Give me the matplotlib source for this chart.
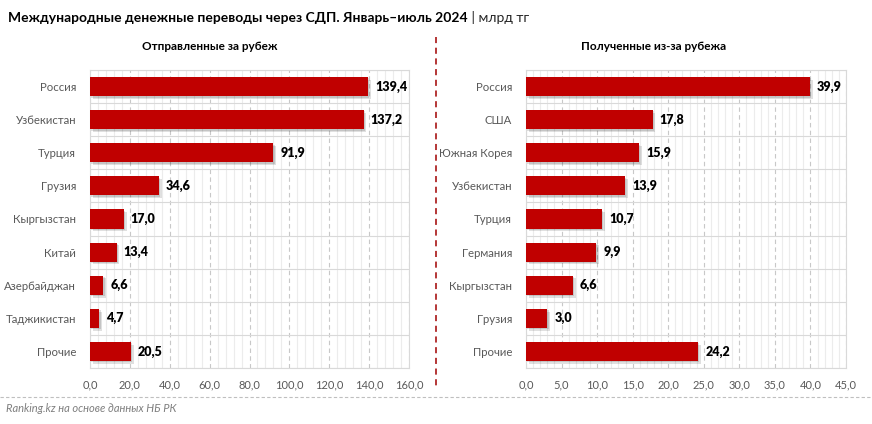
import matplotlib
matplotlib.use("Agg")
import matplotlib.pyplot as plt
import matplotlib.patheffects as pe
from matplotlib.ticker import MultipleLocator, FuncFormatter
from matplotlib.lines import Line2D

plt.rcParams['font.family'] = ['Lato', 'DejaVu Sans']

sent_countries = ["Россия", "Узбекистан", "Турция", "Грузия", "Кыргызстан", "Китай",
                  "Азербайджан", "Таджикистан", "Прочие"]
sent_values = [139.4, 137.2, 91.9, 34.6, 17.0, 13.4, 6.6, 4.7, 20.5]

recv_countries = ["Россия", "США", "Южная Корея", "Узбекистан", "Турция", "Германия",
                  "Кыргызстан", "Грузия", "Прочие"]
recv_values = [39.9, 17.8, 15.9, 13.9, 10.7, 9.9, 6.6, 3.0, 24.2]

title_main = "Международные денежные переводы через СДП. Январь–июль 2024"
title_unit = " | млрд тг"
sub_left = "Отправленные за рубеж"
sub_right = "Полученные из-за рубежа"
source = "Ranking.kz на основе данных НБ РК"

RED = "#C00000"
GRID = "#d9d9d9"
TXT = "#595959"

fig = plt.figure(figsize=(8.72, 4.24), dpi=100)
W, H = 872, 424

def make_ax(left_px, right_px, cats, vals, xmax, major, minor, offset):
    ax = fig.add_axes([left_px / W, 1 - 368 / H, (right_px - left_px) / W, (368 - 70) / H])
    y = list(range(len(cats)))
    bars = ax.barh(y, vals, height=0.58, color=RED, zorder=3)
    for b in bars:
        b.set_path_effects([pe.SimplePatchShadow(offset=(2, -2), shadow_rgbFace="#000000", alpha=0.12),
                            pe.SimplePatchShadow(offset=(1, -1), shadow_rgbFace="#000000", alpha=0.12),
                            pe.Normal()])
    ax.set_ylim(len(cats) - 0.5, -0.5)
    ax.set_xlim(0, xmax)
    ax.set_yticks(y)
    ax.set_yticklabels(cats, fontsize=8.2, color=TXT)
    ax.set_yticks([i - 0.5 for i in range(len(cats) + 1)], minor=True)
    ax.xaxis.set_major_locator(MultipleLocator(major))
    ax.xaxis.set_minor_locator(MultipleLocator(minor))
    ax.xaxis.set_major_formatter(FuncFormatter(lambda v, p: f"{v:.1f}".replace(".", ",")))
    ax.tick_params(axis='x', which='both', length=0, labelsize=8, labelcolor=TXT, pad=8)
    ax.tick_params(axis='y', which='both', length=0, pad=10)
    ax.grid(axis='x', which='minor', color="#ececec", lw=0.8, zorder=0)
    ax.grid(axis='x', which='major', color="#c8c8c8", lw=0.8, ls=(0, (4, 3)), zorder=1)
    ax.grid(axis='y', which='minor', color=GRID, lw=0.8, zorder=1)
    for s in ax.spines.values():
        s.set_color(GRID)
        s.set_linewidth(0.8)
    for yi, v in zip(y, vals):
        ax.text(v + offset, yi, f"{v:.1f}".replace(".", ","), va='center', ha='left',
                fontsize=9, fontweight='heavy', color="#000000")
    return ax

make_ax(90, 409, sent_countries, sent_values, 160, 20, 4, 3.5)
make_ax(526, 846, recv_countries, recv_values, 45, 5, 1, 1.0)

t1 = fig.text(8 / W, 1 - 18 / H, title_main, fontsize=10, fontweight='bold', va='center', ha='left')
fig.canvas.draw()
bb = t1.get_window_extent()
fig.text(bb.x1 / W, 1 - 18 / H, title_unit, fontsize=10, va='center', ha='left', color="#262626")

fig.text(210 / W, 1 - 47 / H, sub_left, fontsize=8.5, fontweight='bold', ha='center', va='center')
fig.text(654 / W, 1 - 47 / H, sub_right, fontsize=8.5, fontweight='bold', ha='center', va='center')

fig.add_artist(Line2D([436 / W, 436 / W], [1 - 37 / H, 1 - 388 / H], color="#a00000", lw=1.1,
                      ls=(0, (4, 3)), transform=fig.transFigure))
fig.add_artist(Line2D([0, 1], [1 - 397 / H, 1 - 397 / H], color="#bfbfbf", lw=0.8,
                      ls=(0, (3, 2)), transform=fig.transFigure))
fig.text(6 / W, 1 - 409 / H, source, fontsize=8, style='italic', color="#7f7f7f", ha='left', va='center')

fig.savefig("out.png", dpi=100)
